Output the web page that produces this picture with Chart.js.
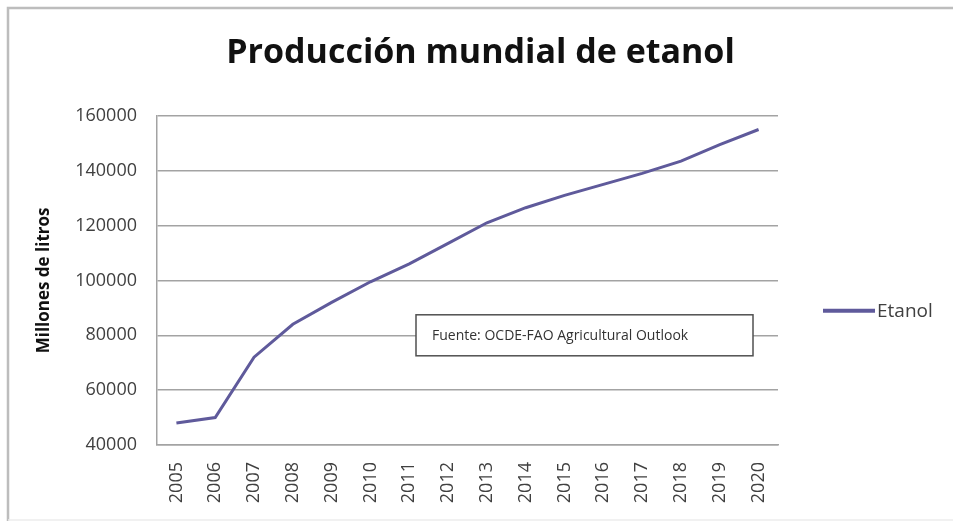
<!DOCTYPE html>
<html>
<head>
<meta charset="utf-8">
<script src="https://cdn.jsdelivr.net/npm/chart.js@4.4.1/dist/chart.umd.min.js"></script>
<style>
  html, body { margin: 0; padding: 0; background: #ffffff; }
  #wrap { width: 953px; height: 524px; position: relative; }
</style>
</head>
<body>
<div id="wrap"><canvas id="c" width="953" height="524"></canvas></div>
<script>
const years = ['2005','2006','2007','2008','2009','2010','2011','2012','2013','2014','2015','2016','2017','2018','2019','2020'];
const etanol = [48000, 50000, 72000, 84000, 92000, 99500, 106000, 113500, 121000, 126500, 131000, 135000, 139000, 143500, 149500, 155000];
const seriesName = 'Etanol';
const chartTitle = 'Producción mundial de etanol';
const yAxisTitle = 'Millones de litros';
const sourceNote = 'Fuente: OCDE-FAO Agricultural Outlook';

const FONT = "'Open Sans', 'DejaVu Sans', sans-serif";
const LINE_COLOR = '#5f5a9b';
const GRID_COLOR = '#a3a3a3';
const TEXT_COLOR = '#404040';

const decor = {
  id: 'decor',
  beforeDraw(chart) {
    const ctx = chart.ctx;
    ctx.save();
    ctx.fillStyle = '#ffffff';
    ctx.fillRect(0, 0, chart.width, chart.height);
    ctx.strokeStyle = '#bdbdbd';
    ctx.lineWidth = 2.5;
    ctx.beginPath();
    ctx.moveTo(8, 521);
    ctx.lineTo(8, 8);
    ctx.lineTo(chart.width, 8);
    ctx.stroke();
    ctx.strokeStyle = '#ececec';
    ctx.lineWidth = 1.5;
    ctx.beginPath();
    ctx.moveTo(8, 520);
    ctx.lineTo(chart.width, 520);
    ctx.stroke();
    ctx.restore();
  },
  afterDatasetsDraw(chart) {
    const ctx = chart.ctx;
    const a = chart.chartArea;
    ctx.save();
    // source note box
    const bx = a.left + 259, by = a.top + 199, bw = 337, bh = 41;
    ctx.fillStyle = '#ffffff';
    ctx.fillRect(bx, by, bw, bh);
    ctx.strokeStyle = '#505050';
    ctx.lineWidth = 1.5;
    ctx.strokeRect(bx, by, bw, bh);
    ctx.fillStyle = '#333333';
    ctx.font = "14px " + FONT;
    ctx.textBaseline = 'middle';
    ctx.textAlign = 'left';
    ctx.fillText(sourceNote, bx + 16, by + bh / 2 + 0.5);
    // legend
    const ds = chart.data.datasets[0];
    const lx = a.right + 45, ly = a.top + 195;
    ctx.strokeStyle = ds.borderColor;
    ctx.lineWidth = 4;
    ctx.beginPath();
    ctx.moveTo(lx, ly);
    ctx.lineTo(lx + 52, ly);
    ctx.stroke();
    ctx.fillStyle = TEXT_COLOR;
    ctx.font = "19px " + FONT;
    ctx.fillText(ds.label, lx + 54, ly + 1);
    ctx.restore();
  }
};

new Chart(document.getElementById('c'), {
  type: 'line',
  data: {
    labels: years,
    datasets: [{
      label: seriesName,
      data: etanol,
      borderColor: LINE_COLOR,
      backgroundColor: LINE_COLOR,
      borderWidth: 3,
      pointRadius: 0,
      tension: 0,
      yAxisID: 'y'
    }]
  },
  options: {
    responsive: false,
    animation: false,
    devicePixelRatio: 1,
    layout: { padding: { left: 8, right: 0, top: 0, bottom: 0 } },
    plugins: {
      legend: { display: false },
      tooltip: { enabled: false },
      title: {
        display: true,
        text: chartTitle,
        color: '#111111',
        font: { family: FONT, size: 34, weight: 'bold', lineHeight: 1.2 },
        padding: { top: 33, bottom: 42 }
      }
    },
    scales: {
      x: {
        offset: true,
        grid: { display: false, drawTicks: false },
        border: { display: true, color: GRID_COLOR, width: 1.5 },
        ticks: {
          color: TEXT_COLOR,
          font: { family: FONT, size: 18 },
          minRotation: 90,
          maxRotation: 90,
          padding: 17,
          autoSkip: false
        },
        afterFit(s) { s.height = 79; }
      },
      y: {
        position: 'left',
        min: 40000,
        max: 160000,
        grid: { color: GRID_COLOR, lineWidth: 1.5, drawTicks: false },
        border: { display: true, color: GRID_COLOR, width: 1.5 },
        ticks: {
          stepSize: 20000,
          color: TEXT_COLOR,
          font: { family: FONT, size: 18 },
          padding: 20,
          callback: (v) => String(v)
        },
        title: {
          display: true,
          text: yAxisTitle,
          color: '#111111',
          font: { family: FONT, size: 17, weight: 'bold' },
          padding: { top: 26, bottom: 0 }
        },
        afterFit(s) { s.width = 149; }
      },
      side: {
        position: 'right',
        display: true,
        grid: { display: false, drawTicks: false },
        border: { display: false },
        ticks: { display: false },
        afterFit(s) { s.width = 175; }
      }
    }
  },
  plugins: [decor]
});
</script>
</body>
</html>
